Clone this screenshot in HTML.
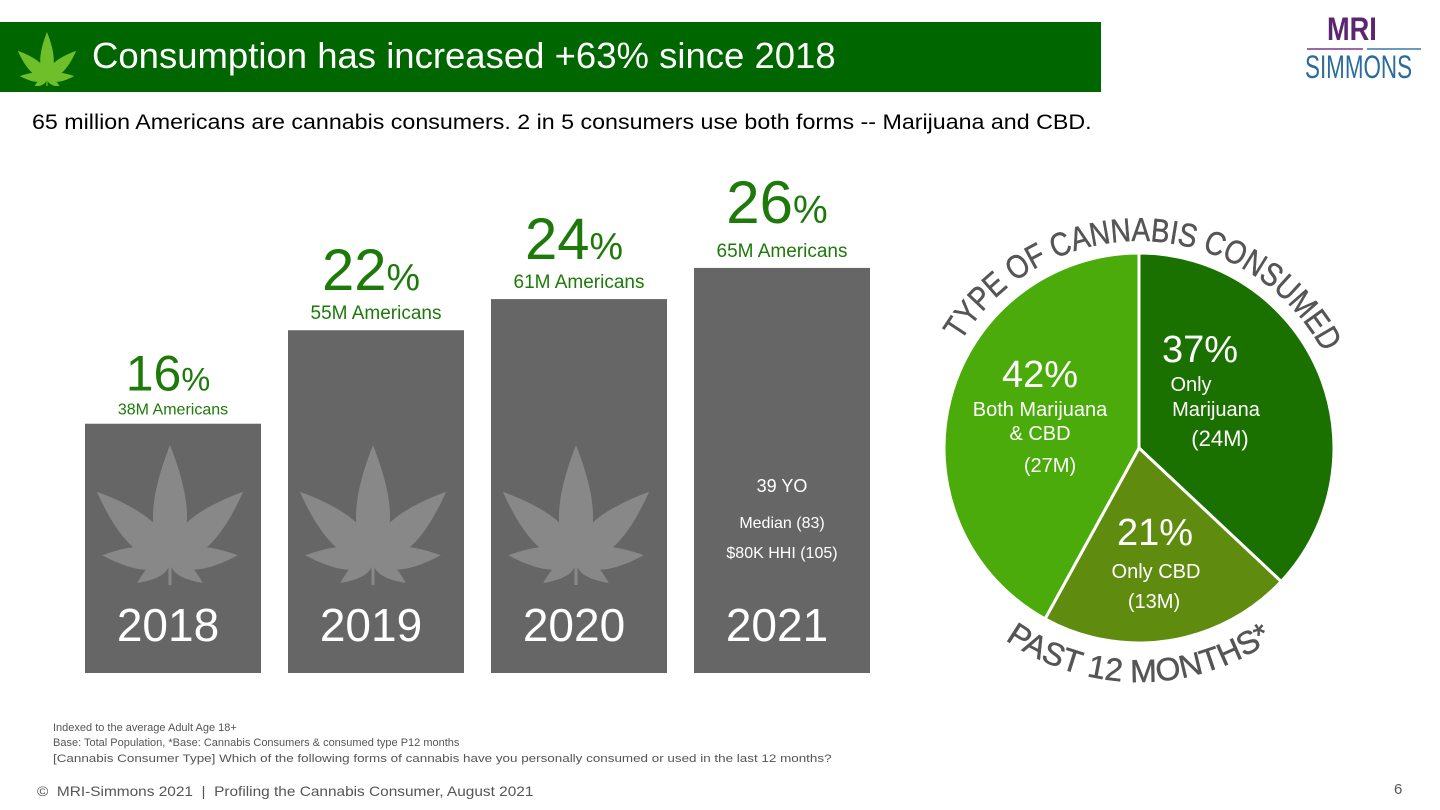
<!DOCTYPE html>
<html><head><meta charset="utf-8"><style>
body{margin:0;width:1440px;height:810px;background:#fff;font-family:"Liberation Sans",sans-serif;overflow:hidden;position:relative}
.a{position:absolute;white-space:nowrap}
</style></head><body>
<div class="a" style="left:0;top:22px;width:1101px;height:70px;background:#006600"></div>
<svg class="a" style="left:18px;top:28px" width="58" height="58" viewBox="-29 -50 58 58"><g fill="#6fbf2a" id="bl"></g></svg>
<div class="a" style="left:92px;top:34px;color:#fff;font-size:36.5px;line-height:44px">Consumption has increased +63% since 2018</div>
<div class="a" style="left:1327px;top:12px;color:#5b2570;font-size:32px;font-weight:bold;line-height:34px;transform:scaleX(0.85);transform-origin:left">MRI</div>
<div class="a" style="left:1307px;top:48px;width:56px;height:2px;background:#9a6aa8"></div>
<div class="a" style="left:1367px;top:48px;width:54px;height:2px;background:#6a9ac0"></div>
<div class="a" style="left:1305px;top:50px;color:#2b6c9c;font-size:32px;line-height:34px;transform:scaleX(0.7);transform-origin:left">SIMMONS</div>
<div class="a" style="left:32px;top:110px;font-size:21.5px;color:#000;transform:scaleX(1.08);transform-origin:left">65 million Americans are cannabis consumers. 2 in 5 consumers use both forms -- Marijuana and CBD.</div>

<svg class="a" style="left:0;top:0" width="900" height="700" id="bars"></svg>
<svg class="a" style="left:0;top:0" width="1440" height="810" id="pie">
<defs>
<path id="toparc" d="M 931 449 A 208 208 0 0 1 1347 449"/>
<path id="botarc" d="M 906 449 A 233 233 0 0 0 1372 449"/>
</defs>
</svg>

<div class="a" style="left:53px;top:722px;font-size:11px;color:#555">Indexed to the average Adult Age 18+</div>
<div class="a" style="left:53px;top:737px;font-size:11px;color:#555">Base: Total Population, *Base: Cannabis Consumers &amp; consumed type P12 months</div>
<div class="a" style="left:53px;top:753px;font-size:11px;color:#555;transform:scaleX(1.22);transform-origin:left">[Cannabis Consumer Type] Which of the following forms of cannabis have you personally consumed or used in the last 12 months?</div>
<div class="a" style="left:37px;top:783px;font-size:14px;color:#555;transform:scaleX(1.1);transform-origin:left">©&nbsp; MRI-Simmons 2021&nbsp; |&nbsp; Profiling the Cannabis Consumer, August 2021</div>
<div class="a" style="left:1394px;top:781px;font-size:15px;color:#555">6</div>

<script>
const years=["2018","2019","2020","2021"];
const pcts=[16,22,24,26];
const millions=[38,55,61,65];
const pieLabels=["Only Marijuana","Only CBD","Both Marijuana & CBD"];
const pieValues=[37,21,42];
const pieMillions=[24,13,27];

const NS="http://www.w3.org/2000/svg";
function mk(p,t,a){const e=document.createElementNS(NS,t);for(const k in a)e.setAttribute(k,a[k]);p.appendChild(e);return e;}
const leafParts=[[0,115,30],[-47,100,28],[47,100,28],[-86,68,20],[86,68,20],[-125,40,13],[125,40,13]];
function leaf(g,s){leafParts.forEach(p=>{const L=p[1]*s,w=p[2]*s;mk(g,"path",{d:`M0,0 C${w*0.9},${-L*0.2} ${w*0.6},${-L*0.6} 0,${-L} C${-w*0.6},${-L*0.6} ${-w*0.9},${-L*0.2} 0,0Z`,transform:`rotate(${p[0]})`});});mk(g,"rect",{x:-1.5*s,y:0,width:3*s,height:25*s});}
leaf(document.getElementById("bl"),0.4);

const bars=document.getElementById("bars");
const base=673,scale=15.58,x0=85,bw=176,gap=203;
const yv=v=>base-v*scale;
years.forEach((y,i)=>{
 const x=x0+i*gap,top=yv(pcts[i]);
 const r=mk(bars,"rect",{x:x,y:top,width:bw,height:base-top,fill:"#666"});
 
 
 const cx=x+bw/2;
 if(i<3){const g=mk(bars,"g",{fill:"#888",transform:`translate(${cx-3},560)`});leaf(g,1);}
 else{
  [["39 YO",top+224,18],["Median (83)",top+260,16],["$80K HHI (105)",top+290,16]].forEach((t,k)=>{const e=mk(bars,"text",{x:cx,y:t[1],fill:"#fff","font-size":t[2],"text-anchor":"middle"});e.textContent=t[0];});
 }
 const yl=mk(bars,"text",{x:cx-5,y:641,fill:"#fff","font-size":46,"text-anchor":"middle"});yl.textContent=y;
 
 const big=i==0?50:i==3?60:58, sm=big*0.65;
 const pt=mk(bars,"text",{x:cx-5,fill:"#1d7a0a","text-anchor":"middle"});
 pt.setAttribute("y",top-(i==0?33:40)-(i==3?5:0));
 pt.setAttribute("font-size",big);
 pt.innerHTML=`${pcts[i]}<tspan font-size="${sm}">%</tspan>`;
 
 const ml=mk(bars,"text",{x:cx,y:top-(i==0?9:11),fill:"#1d7a0a","font-size":i==0?16:19,"text-anchor":"middle"});
 ml.textContent=millions[i]+"M Americans";
 
});

const pie=document.getElementById("pie");
const cx=1139,cy=448,R=195;
const cols=["#1a7100","#5f8c0f","#4aab0a"];
const tot=pieValues.reduce((a,b)=>a+b,0);
let a0=0;
const pt=(a,r)=>[cx+r*Math.sin(a),cy-r*Math.cos(a)];
const lblPos=[[1200,362],[1155,545],[1040,387]];
pieValues.forEach((v,i)=>{
 const a1=a0+v/tot*2*Math.PI;const p0=pt(a0,R),p1=pt(a1,R);
 const s=mk(pie,"path",{d:`M${cx},${cy} L${p0[0]},${p0[1]} A${R},${R} 0 ${a1-a0>Math.PI?1:0} 1 ${p1[0]},${p1[1]}Z`,fill:cols[i],stroke:"#fff","stroke-width":3});
 
 a0=a1;
 const [lx,ly]=lblPos[i];
 const t=mk(pie,"text",{x:lx,y:ly,fill:"#fff","font-size":38,"text-anchor":"middle"});t.textContent=pieValues[i]+"%";
 
 let lines=i==0?[["Only",1191,391],["Marijuana",1216,416],["("+pieMillions[i]+"M)",1220,446]]:i==1?[[pieLabels[1],1156,578],["("+pieMillions[i]+"M)",1154,608]]:[["Both Marijuana",1040,416],["& CBD",1040,440],["("+pieMillions[i]+"M)",1050,472]];
 lines.forEach((l,k)=>{const e=mk(pie,"text",{x:l[1],y:l[2],fill:"#fff","font-size":i==0&&k==2?22:20,"text-anchor":"middle"});e.textContent=l[0];});
});
const tt=mk(pie,"text",{fill:"#555","font-size":33,"text-anchor":"middle",stroke:"#555","stroke-width":0.5});
tt.innerHTML='<textPath href="#toparc" startOffset="51%" textLength="440" lengthAdjust="spacingAndGlyphs">TYPE OF CANNABIS CONSUMED</textPath>';

const bt=mk(pie,"text",{fill:"#555","font-size":32,"text-anchor":"middle",stroke:"#555","stroke-width":0.5});
bt.innerHTML='<textPath href="#botarc" startOffset="50%">PAST 12 MONTHS*</textPath>';

</script>
</body></html>
